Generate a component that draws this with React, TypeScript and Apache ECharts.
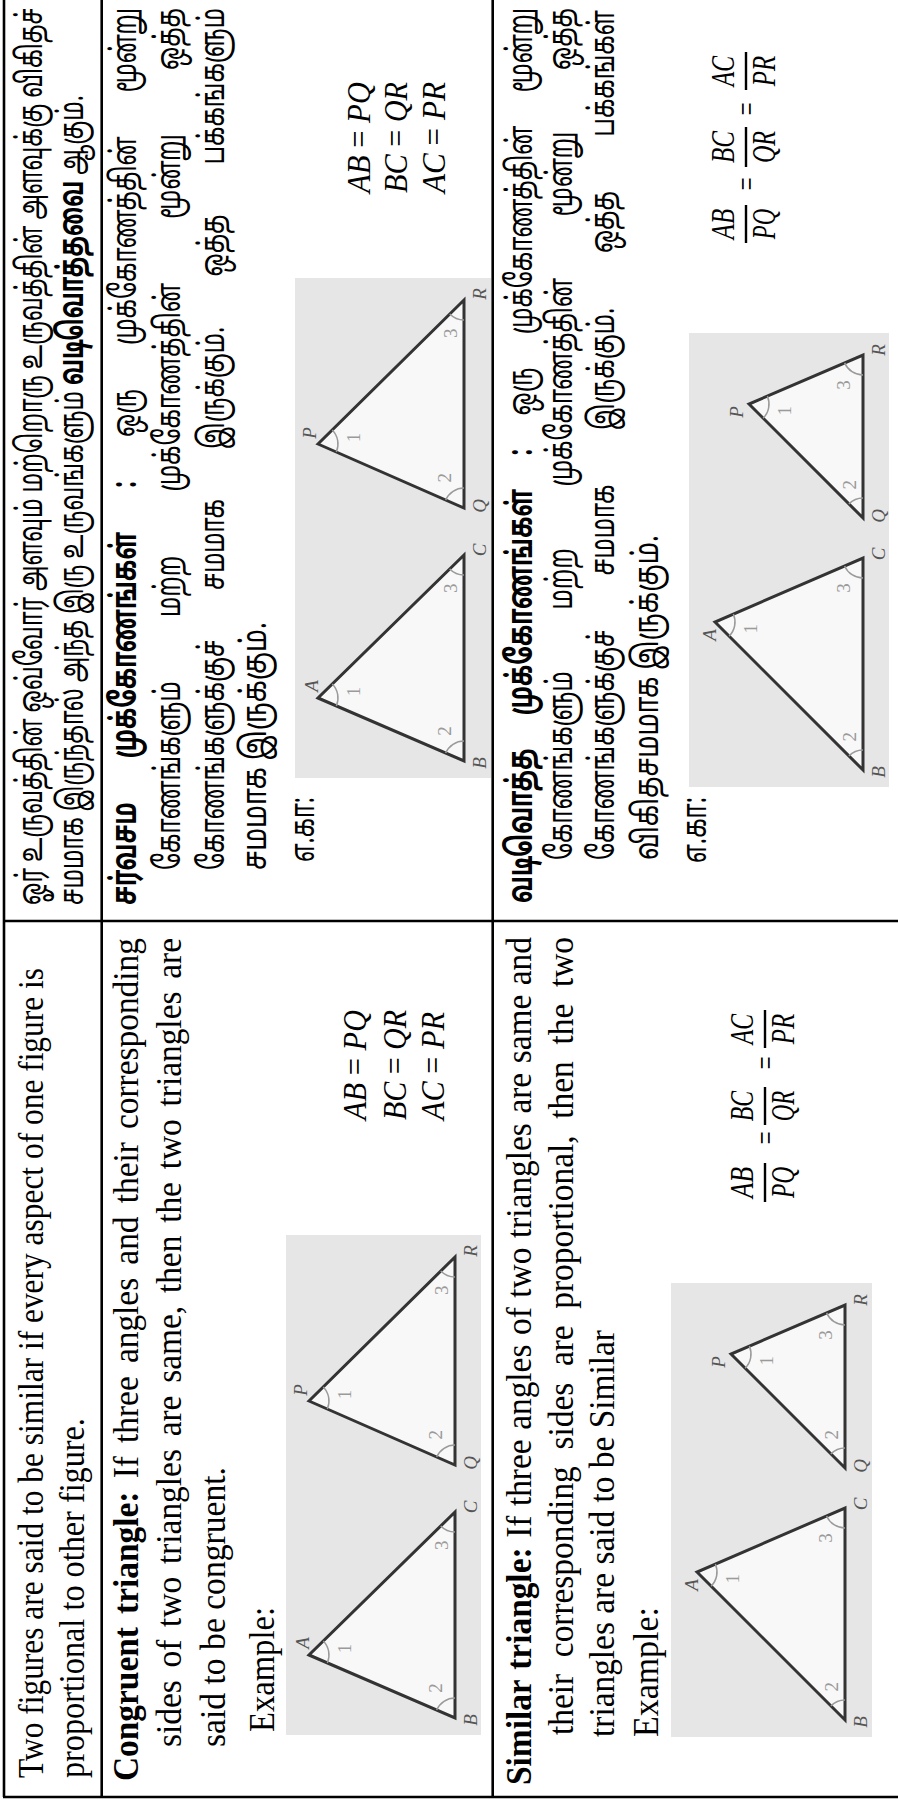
import React, { useEffect, useRef } from "react";
import * as echarts from "echarts";

const PAGE_W = 898;
const PAGE_H = 1801;

type Seg = { t: string; b?: boolean; i?: boolean };

// ---------------- English column ----------------
const enIntroLines: Seg[][] = [
  [{ t: "Two figures are said to be similar if every aspect of one figure is" }],
  [{ t: "proportional to other figure." }],
];
const enCongruentLines: Seg[][] = [
  [{ t: "Congruent triangle:", b: true }, { t: "If three angles and their corresponding" }],
  [{ t: "sides of two triangles are same, then the two triangles are" }],
  [{ t: "said to be congruent." }],
  [{ t: "Example:" }],
];
const enSimilarLines: Seg[][] = [
  [{ t: "Similar triangle:", b: true }, { t: "If three angles of two triangles are same and" }],
  [{ t: "their corresponding sides are proportional, then the two" }],
  [{ t: "triangles are said to be Similar" }],
  [{ t: "Example:" }],
];

// ---------------- Tamil column ----------------
const taIntroLines: Seg[][] = [
  [{ t: "ஓர் உருவத்தின் ஒவ்வோர் அளவும் மற்றொரு உருவத்தின் அளவுக்கு விகிதச்" }],
  [{ t: "சமமாக இருந்தால் அந்த இரு உருவங்களும்" }, { t: "வடிவொத்தவை", b: true }, { t: "ஆகும்." }],
];
const taCongruentLines: Seg[][] = [
  [{ t: "சர்வசம முக்கோணங்கள் :", b: true }, { t: "ஒரு முக்கோணத்தின் மூன்று" }],
  [{ t: "கோணங்களும் மற்ற முக்கோணத்தின் மூன்று ஒத்த" }],
  [{ t: "கோணங்களுக்குச் சமமாக இருக்கும். ஒத்த பக்கங்களும்" }],
  [{ t: "சமமாக இருக்கும்." }],
  [{ t: "எ.கா:" }],
];
const taSimilarLines: Seg[][] = [
  [{ t: "வடிவொத்த முக்கோணங்கள் :", b: true }, { t: "ஒரு முக்கோணத்தின் மூன்று" }],
  [{ t: "கோணங்களும் மற்ற முக்கோணத்தின் மூன்று ஒத்த" }],
  [{ t: "கோணங்களுக்குச் சமமாக இருக்கும். ஒத்த பக்கங்கள்" }],
  [{ t: "விகிதசமமாக இருக்கும்." }],
  [{ t: "எ.கா:" }],
];

// ---------------- Equations ----------------
const eqLeft = ["AB", "BC", "AC"];
const eqRight = ["PQ", "QR", "PR"];
const fracNum = ["AB", "BC", "AC"];
const fracDen = ["PQ", "QR", "PR"];

// ---------------- Figure labels ----------------
const triNames = [["A", "B", "C"], ["P", "Q", "R"]];
const angleNums = ["1", "2", "3"];

// ---------------- Layout (document coordinates, before rotation) ----------------
// line: [x0, x1, baseline, justify]
const enIntroLayout = [[23, 833, 42, 0], [23, 383, 84, 0]];
const enCongruentLayout = [[20, 863, 138, 1], [54, 863, 181, 1], [54, 334, 224, 0], [69, 194, 274, 0]];
const enSimilarLayout = [[16, 864, 531, 1], [66, 864, 573, 1], [64, 471, 614, 0], [64, 194, 657, 0]];
const taIntroLayout = [[896, 1793, 42, 1], [896, 1706, 83, 0]];
const taCongruentLayout = [[896, 1793, 136, 1], [931, 1793, 180, 1], [931, 1793, 224, 1], [931, 1179, 266, 0], [939, 1004, 314, 0]];
const taSimilarLayout = [[898, 1793, 532, 1], [941, 1793, 572, 1], [941, 1791, 614, 1], [941, 1266, 657, 0], [938, 1004, 706, 0]];

const congruentTris = [
  { pts: [[80, 23], [17, 169], [223, 169]], lab: [[12, -7], [-2, 15], [5, 15]] },
  { pts: [[334, 23], [270, 169], [478, 169]], lab: [[11, -9], [2, 15], [6, 15]] },
];
const similarTris = [
  { pts: [[165, 26], [17, 174], [229, 174]], lab: [[-13, -6], [-2, 15], [4, 15]] },
  { pts: [[383, 60], [269, 174], [432, 174]], lab: [[-8, -13], [2, 15], [5, 15]] },
];

const EN_FAMILY = "'Liberation Serif', 'Times New Roman', serif";
const TA_FAMILY = "'Latha', 'Noto Sans Tamil', 'Noto Serif Tamil', 'Lohit Tamil', 'Noto Sans', sans-serif";
const EN_SIZE = 35;
const TA_SIZE = 35;
const EQ_SIZE = 33;
const FIG_SIZE = 19;

let ctx: any = null;
function cssFont(size: number, family: string, bold?: boolean, italic?: boolean) {
  return `${italic ? "italic " : ""}${bold ? "bold " : ""}${size}px ${family}`;
}
function measure(text: string, font: string) {
  if (!ctx) ctx = document.createElement("canvas").getContext("2d");
  ctx.font = font;
  return ctx.measureText(text);
}
function centralOffset(size: number, family: string) {
  const m = measure("Hg", cssFont(size, family));
  const a = m.fontBoundingBoxAscent ?? size * 0.89;
  const d = m.fontBoundingBoxDescent ?? size * 0.22;
  return (a - d) / 2;
}

type Word = { t: string; b: boolean; i: boolean; w: number };
function toWords(segs: Seg[], size: number, family: string): Word[] {
  const out: Word[] = [];
  segs.forEach((s) => {
    s.t.split(" ").forEach((t) => {
      if (!t) return;
      out.push({ t, b: !!s.b, i: !!s.i, w: measure(t, cssFont(size, family, s.b, s.i)).width });
    });
  });
  return out;
}

function naturalWidth(words: Word[], space: number) {
  return words.reduce((a, w) => a + w.w, 0) + space * (words.length - 1);
}

function refScale(blocks: [Seg[][], number[][]][], size: number, family: string) {
  const space = measure(" ", cssFont(size, family)).width;
  const ks: number[] = [];
  blocks.forEach(([lines, lay]) => {
    lines.forEach((segs, k) => {
      const [x0, x1, , j] = lay[k];
      if (j) return;
      const ws = toWords(segs, size, family);
      ks.push((x1 - x0) / naturalWidth(ws, space));
    });
  });
  ks.sort((a, b) => a - b);
  return ks.length ? ks[Math.floor(ks.length / 2)] : 1;
}

function textEl(t: string, x: number, y: number, sx: number, size: number, family: string, bold: boolean, italic: boolean, fill: string, align = "left") {
  return {
    type: "text",
    x,
    y,
    scaleX: sx,
    silent: true,
    style: {
      text: t,
      fontSize: size,
      fontFamily: family,
      fontWeight: bold ? "bold" : "normal",
      fontStyle: italic ? "italic" : "normal",
      fill,
      textAlign: align,
      verticalAlign: "middle",
      textVerticalAlign: "middle",
    },
  };
}

function placeLine(segs: Seg[], lay: number[], size: number, family: string, kRef: number, fill = "#000") {
  const [x0, x1, base, j] = lay;
  const space = measure(" ", cssFont(size, family)).width;
  const ws = toWords(segs, size, family);
  const nat = naturalWidth(ws, space);
  let s = (x1 - x0) / nat;
  let gap = space * s;
  if (j && ws.length > 1) {
    const sum = ws.reduce((a, w) => a + w.w, 0);
    const g = (x1 - x0 - kRef * sum) / (ws.length - 1);
    if (g >= space * kRef * 0.6) {
      s = kRef;
      gap = g;
    }
  }
  const off = centralOffset(size, family);
  const els: any[] = [];
  let cur = x0;
  ws.forEach((w) => {
    els.push(textEl(w.t, cur, base - off, s, size, family, w.b, w.i, fill));
    cur += w.w * s + gap;
  });
  return els;
}

function buildFigure(box: number[], tris: any[]) {
  const [bx, by, bw, bh] = box;
  const els: any[] = [];
  els.push({ type: "rect", silent: true, shape: { x: bx, y: by, width: bw, height: bh }, style: { fill: "#e6e6e6" } });
  tris.forEach((tri, ti) => {
    const pts = tri.pts.map((p: number[]) => [bx + p[0], by + p[1]]);
    els.push({
      type: "polygon",
      silent: true,
      shape: { points: pts },
      style: { fill: "#f8f8f8", stroke: "#333", lineWidth: 3, lineJoin: "miter" },
    });
    pts.forEach((p: number[], k: number) => {
      const a = pts[(k + 1) % 3];
      const c = pts[(k + 2) % 3];
      const a1 = Math.atan2(a[1] - p[1], a[0] - p[0]);
      const a2 = Math.atan2(c[1] - p[1], c[0] - p[0]);
      let d = a2 - a1;
      while (d > Math.PI) d -= 2 * Math.PI;
      while (d < -Math.PI) d += 2 * Math.PI;
      const start = d >= 0 ? a1 : a2;
      const span = Math.abs(d);
      els.push({
        type: "arc",
        silent: true,
        shape: { cx: p[0], cy: p[1], r: 20, startAngle: start, endAngle: start + span, clockwise: true },
        style: { stroke: "#9a9a9a", lineWidth: 1.5, fill: null },
      });
      const mid = start + span / 2;
      els.push(textEl(angleNums[k], p[0] + 36 * Math.cos(mid), p[1] + 36 * Math.sin(mid), 1, FIG_SIZE, EN_FAMILY, false, false, "#9a9a9a", "center"));
      const lo = tri.lab[k];
      els.push(textEl(triNames[ti][k], p[0] + lo[0], p[1] + lo[1], 1, FIG_SIZE, EN_FAMILY, false, true, "#555", "center"));
    });
  });
  return els;
}

function buildEquations(x0: number, x1s: number[], bases: number[]) {
  const els: any[] = [];
  eqLeft.forEach((l, k) => {
    const segs: Seg[] = [{ t: l, i: true }, { t: "=" }, { t: eqRight[k], i: true }];
    els.push(...placeLine(segs, [x0, x1s[k], bases[k], 0], EQ_SIZE, EN_FAMILY, 1));
  });
  return els;
}

function buildFractions(barY: number, slots: number[][], eqX: number[]) {
  const els: any[] = [];
  const off = centralOffset(EQ_SIZE, EN_FAMILY);
  slots.forEach(([a, b], k) => {
    const cx = (a + b) / 2;
    const tw = (b - a) * 0.8;
    const nw = measure(fracNum[k], cssFont(EQ_SIZE, EN_FAMILY, false, true)).width;
    const dw = measure(fracDen[k], cssFont(EQ_SIZE, EN_FAMILY, false, true)).width;
    els.push(textEl(fracNum[k], cx, barY - 12.5 - off, tw / nw, EQ_SIZE, EN_FAMILY, false, true, "#000", "center"));
    els.push(textEl(fracDen[k], cx, barY + 29 - off, tw / dw, EQ_SIZE, EN_FAMILY, false, true, "#000", "center"));
    els.push({ type: "line", silent: true, shape: { x1: a, y1: barY, x2: b, y2: barY }, style: { stroke: "#000", lineWidth: 2.4 } });
  });
  eqX.forEach((x) => {
    els.push(textEl("=", x, barY + 1, 0.7, EQ_SIZE, EN_FAMILY, false, false, "#000", "center"));
  });
  return els;
}

function buildDocument() {
  const els: any[] = [];
  const line = (x1: number, y1: number, x2: number, y2: number) => ({
    type: "line",
    silent: true,
    shape: { x1, y1, x2, y2 },
    style: { stroke: "#000", lineWidth: 2.6 },
  });
  els.push(line(4, 4, 1860, 4));
  els.push(line(4, 101.7, 1860, 101.7));
  els.push(line(4, 492.7, 1860, 492.7));
  els.push(line(4, 3, 4, 960));
  els.push(line(880, 3, 880, 960));

  els.push(...buildFigure([66, 286, 500, 195], congruentTris));
  els.push(...buildFigure([1023, 295, 500, 196], congruentTris));
  els.push(...buildFigure([64, 671, 454, 201], similarTris));
  els.push(...buildFigure([1014, 689, 454, 200], similarTris));

  const enBlocks: [Seg[][], number[][]][] = [
    [enIntroLines, enIntroLayout],
    [enCongruentLines, enCongruentLayout],
    [enSimilarLines, enSimilarLayout],
  ];
  const taBlocks: [Seg[][], number[][]][] = [
    [taIntroLines, taIntroLayout],
    [taCongruentLines, taCongruentLayout],
    [taSimilarLines, taSimilarLayout],
  ];
  const kEn = refScale(enBlocks, EN_SIZE, EN_FAMILY);
  const kTa = refScale(taBlocks, TA_SIZE, TA_FAMILY);
  enBlocks.forEach(([lines, lay]) => lines.forEach((segs, k) => els.push(...placeLine(segs, lay[k], EN_SIZE, EN_FAMILY, kEn))));
  taBlocks.forEach(([lines, lay]) => lines.forEach((segs, k) => els.push(...placeLine(segs, lay[k], TA_SIZE, TA_FAMILY, kTa))));

  els.push(...buildEquations(681, [791, 791, 789], [366, 406, 444]));
  els.push(...buildEquations(1608, [1719, 1719, 1719], [370, 407, 445]));
  els.push(...buildFractions(765, [[599, 638], [676, 714], [753, 791]], [663, 738]));
  els.push(...buildFractions(746, [[1558, 1596], [1634, 1674], [1711, 1749]], [1617, 1692]));
  return els;
}

export default function App() {
  const ref = useRef<HTMLDivElement>(null);
  useEffect(() => {
    if (!ref.current) return;
    const chart = echarts.init(ref.current, null, { renderer: "svg", width: PAGE_W, height: PAGE_H });
    chart.setOption({
      animation: false,
      graphic: {
        elements: [
          {
            type: "group",
            x: 0,
            y: PAGE_H,
            rotation: Math.PI / 2,
            children: buildDocument(),
          },
        ],
      },
    });
    return () => chart.dispose();
  }, []);
  return (
    <div
      ref={ref}
      style={{ position: "absolute", left: 0, top: 0, width: PAGE_W, height: PAGE_H, background: "#fff" }}
    />
  );
}
